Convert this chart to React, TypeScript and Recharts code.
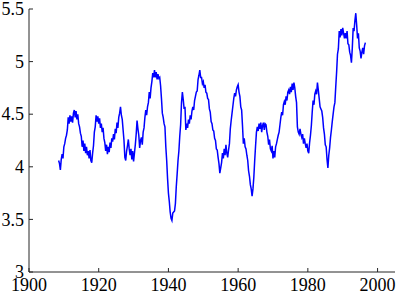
import { LineChart, Line, XAxis, YAxis } from "recharts";

// quarterly readings, first point at 1908.5
const START_YEAR = 1908.5;
const STEP = 0.25;

const V_1900s = [4.06, 4.03, 3.97, 4.07, 4.12, 4.08];
const V_1910s = [
  4.19, 4.22, 4.27, 4.3, 4.35, 4.47, 4.41, 4.49, 4.43, 4.48, 4.42, 4.51, 4.54, 4.47, 4.53, 4.45,
  4.5, 4.41, 4.38, 4.32, 4.29, 4.19, 4.25, 4.15, 4.22, 4.13, 4.19, 4.11, 4.15, 4.08, 4.16, 4.06,
  4.04, 4.13, 4.2, 4.33, 4.38, 4.49, 4.43, 4.48,
];
const V_1920s = [
  4.41, 4.46, 4.37, 4.41, 4.33, 4.37, 4.27, 4.23, 4.15, 4.21, 4.12, 4.19, 4.14, 4.23, 4.18, 4.27,
  4.24, 4.31, 4.26, 4.36, 4.32, 4.42, 4.37, 4.47, 4.51, 4.57, 4.49, 4.45, 4.35, 4.25, 4.09, 4.06,
  4.15, 4.2, 4.26, 4.17, 4.11, 4.17, 4.07, 4.15,
];
const V_1930s = [
  4.05, 4.13, 4.21, 4.31, 4.44, 4.36, 4.3, 4.18, 4.25, 4.28, 4.21, 4.33, 4.37, 4.47, 4.54, 4.49,
  4.57, 4.61, 4.71, 4.65, 4.75, 4.81, 4.89, 4.85, 4.92, 4.85, 4.9, 4.83, 4.88, 4.84, 4.85, 4.77,
  4.65, 4.51, 4.47, 4.41, 4.38, 4.19, 4.06, 3.89,
];
const V_1940s = [
  3.75, 3.67, 3.57, 3.51, 3.49, 3.56, 3.57, 3.58, 3.65, 3.81, 3.93, 4.06, 4.15, 4.29, 4.4, 4.61,
  4.71, 4.64, 4.55, 4.57, 4.35, 4.41, 4.37, 4.45, 4.41, 4.49, 4.45, 4.53, 4.57, 4.54, 4.63, 4.67,
  4.71, 4.72, 4.83, 4.87, 4.92, 4.85, 4.85, 4.79,
];
const V_1950s = [
  4.81, 4.75, 4.78, 4.71, 4.7, 4.65, 4.64, 4.55, 4.52, 4.43, 4.41, 4.35, 4.34, 4.27, 4.25, 4.17,
  4.16, 4.09, 4.03, 3.94, 3.99, 4.04, 4.13, 4.08, 4.17, 4.11, 4.21, 4.13, 4.09, 4.16, 4.22, 4.36,
  4.44, 4.51, 4.58, 4.65, 4.7, 4.67, 4.73, 4.76,
];
const V_1960s = [
  4.78, 4.71, 4.67, 4.57, 4.54, 4.39, 4.22, 4.27, 4.19, 4.17, 4.11, 4.06, 3.96, 3.91, 3.83, 3.79,
  3.72, 3.79, 3.9, 4.06, 4.2, 4.33, 4.38, 4.34, 4.41, 4.36, 4.42, 4.33, 4.39, 4.42, 4.35, 4.41,
  4.4, 4.33, 4.29, 4.21, 4.26, 4.17, 4.15, 4.2,
];
const V_1970s = [
  4.08, 4.15, 4.09, 4.19, 4.22, 4.26, 4.3, 4.33, 4.4, 4.47, 4.52, 4.49, 4.59, 4.62, 4.59, 4.67,
  4.63, 4.71, 4.73, 4.69, 4.76, 4.71, 4.79, 4.73, 4.8, 4.75, 4.67, 4.61, 4.38, 4.33, 4.31, 4.36,
  4.31, 4.28, 4.31, 4.22, 4.27, 4.22, 4.18, 4.22,
];
const V_1980s = [
  4.15, 4.13, 4.23, 4.3, 4.39, 4.52, 4.63, 4.59, 4.69, 4.72, 4.69, 4.8, 4.73, 4.65, 4.57, 4.55,
  4.53, 4.47, 4.37, 4.31, 4.21, 4.19, 4.07, 3.99, 4.11, 4.18, 4.28, 4.35, 4.43, 4.5, 4.57, 4.61,
  4.76, 4.9, 5.07, 5.12, 5.29, 5.23, 5.31, 5.25,
];
const V_1990s = [
  5.32, 5.27, 5.22, 5.27, 5.22, 5.29, 5.17, 5.16, 5.09, 5.06, 4.99, 5.13, 5.32, 5.29, 5.39, 5.46,
  5.35, 5.22, 5.27, 5.13, 5.1, 5.03, 5.09, 5.13, 5.07, 5.15, 5.18,
];

const VALUES = [
  ...V_1900s, ...V_1910s, ...V_1920s, ...V_1930s, ...V_1940s,
  ...V_1950s, ...V_1960s, ...V_1970s, ...V_1980s, ...V_1990s,
];

const X_TICKS = [1900, 1920, 1940, 1960, 1980, 2000];
const Y_TICKS = [3, 3.5, 4, 4.5, 5, 5.5];

const data = VALUES.map((v, i) => ({ year: START_YEAR + i * STEP, value: v }));

const AXIS = "#262626";
const SERIF = "Liberation Serif, DejaVu Serif, Times New Roman, serif";

// plain svg text so the serif face actually sticks
function XTick({ x, y, payload }: any) {
  return (
    <text
      x={x}
      y={y}
      dy="0.71em"
      textAnchor="middle"
      fill="#000"
      fontSize={18}
      fontFamily={SERIF}
      style={{ fontFamily: SERIF }}
    >
      {payload.value}
    </text>
  );
}

function YTick({ x, y, payload }: any) {
  return (
    <text
      x={x}
      y={y}
      dy="0.34em"
      textAnchor="end"
      fill="#000"
      fontSize={18}
      fontFamily={SERIF}
      style={{ fontFamily: SERIF }}
    >
      {payload.value}
    </text>
  );
}

export default function App() {
  return (
    <div style={{ position: "absolute", left: 0, top: 0, background: "#fff" }}>
      <LineChart width={397} height={295} data={data} margin={{ top: 9, right: 2, left: 0, bottom: 0 }}>
        <XAxis
          dataKey="year"
          type="number"
          domain={[1900, 2005]}
          ticks={X_TICKS}
          allowDataOverflow
          height={23}
          stroke={AXIS}
          tickSize={-4}
          tickMargin={10}
          tick={<XTick />}
          interval={0}
        />
        <XAxis
          xAxisId="top"
          orientation="top"
          dataKey="year"
          type="number"
          domain={[1900, 2005]}
          ticks={X_TICKS}
          allowDataOverflow
          height={0}
          stroke={AXIS}
          tickSize={-4}
          tick={false}
          interval={0}
        />
        <YAxis
          type="number"
          domain={[3, 5.5]}
          ticks={Y_TICKS}
          allowDataOverflow
          width={29}
          stroke={AXIS}
          tickSize={-4}
          tickMargin={9}
          tick={<YTick />}
          interval={0}
        />
        <YAxis
          yAxisId="right"
          orientation="right"
          type="number"
          domain={[3, 5.5]}
          ticks={Y_TICKS}
          width={0}
          stroke={AXIS}
          tickSize={-4}
          tick={false}
          interval={0}
        />
        <Line
          type="linear"
          dataKey="value"
          stroke="#0000ff"
          strokeWidth={1.5}
          dot={false}
          isAnimationActive={false}
        />
      </LineChart>
    </div>
  );
}
